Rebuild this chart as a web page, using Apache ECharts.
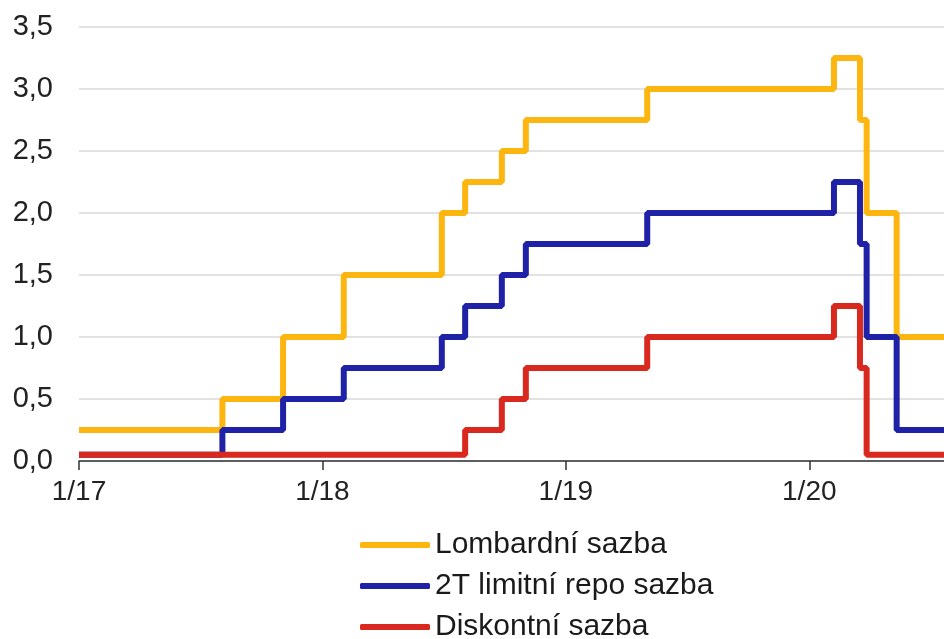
<!DOCTYPE html>
<html>
<head>
<meta charset="utf-8">
<script src="https://cdn.jsdelivr.net/npm/echarts@6/dist/echarts.min.js"></script>
<style>
  html, body { margin: 0; padding: 0; background: #fff; }
  #chart { width: 944px; height: 639px; }
</style>
</head>
<body>
<div id="chart"></div>
<script>
// sazby ČNB (%), body změn
const lombardDates = ['2017-01-01', '2017-08-04', '2017-11-03', '2018-02-02', '2018-06-29', '2018-08-03', '2018-09-27', '2018-11-02', '2019-05-03', '2020-02-07', '2020-03-17', '2020-03-27', '2020-05-11', '2020-07-21'];
const lombardValues = [0.25, 0.5, 1.0, 1.5, 2.0, 2.25, 2.5, 2.75, 3.0, 3.25, 2.75, 2.0, 1.0, 1.0];

const repoDates = ['2017-01-01', '2017-08-04', '2017-11-03', '2018-02-02', '2018-06-29', '2018-08-03', '2018-09-27', '2018-11-02', '2019-05-03', '2020-02-07', '2020-03-17', '2020-03-27', '2020-05-11', '2020-07-21'];
const repoValues = [0.05, 0.25, 0.5, 0.75, 1.0, 1.25, 1.5, 1.75, 2.0, 2.25, 1.75, 1.0, 0.25, 0.25];

const diskontDates = ['2017-01-01', '2018-08-03', '2018-09-27', '2018-11-02', '2019-05-03', '2020-02-07', '2020-03-17', '2020-03-27', '2020-07-21'];
const diskontValues = [0.05, 0.25, 0.5, 0.75, 1.0, 1.25, 0.75, 0.05, 0.05];

const yearTicks = ['2017-01-01', '2018-01-01', '2019-01-01', '2020-01-01'];
const seriesNames = ['Lombardní sazba', '2T limitní repo sazba', 'Diskontní sazba'];
const colors = ['#FDB50F', '#1F22A6', '#D9291F'];

const toTime = s => {
  const [y, m, d] = s.split('-').map(Number);
  return Date.UTC(y, m - 1, d);
};
const pairs = (dates, vals) => dates.map((d, i) => [toTime(d), vals[i]]);
const tickTimes = yearTicks.map(toTime);

const chart = echarts.init(document.getElementById('chart'));
const font = 'Arial, "Liberation Sans", sans-serif';

const mkSeries = (name, data, color) => ({
  name: name,
  type: 'line',
  step: 'end',
  symbol: 'none',
  data: data,
  lineStyle: { color: color, width: 6 },
  itemStyle: { color: color }
});

chart.setOption({
  animation: false,
  grid: { left: 79, right: 0, top: 27, bottom: 178 },
  legend: {
    orient: 'vertical',
    left: 360,
    top: 530,
    height: 160,
    padding: 0,
    icon: 'roundRect',
    itemWidth: 70,
    itemHeight: 6,
    itemGap: 11,
    data: seriesNames,
    textStyle: { fontFamily: font, fontSize: 30, color: '#1a1a1a', lineHeight: 30 }
  },
  xAxis: {
    type: 'value',
    min: toTime('2017-01-01'),
    max: toTime('2020-07-21'),
    axisLine: { lineStyle: { color: '#333', width: 1.5 } },
    axisTick: { show: true, customValues: tickTimes, length: 9, lineStyle: { color: '#333', width: 1.5 } },
    axisLabel: {
      customValues: tickTimes,
      fontFamily: font,
      fontSize: 28,
      color: '#222',
      margin: 17,
      formatter: v => {
        const d = new Date(v);
        return (d.getUTCMonth() + 1) + '/' + String(d.getUTCFullYear()).slice(2);
      }
    },
    splitLine: { show: false }
  },
  yAxis: {
    type: 'value',
    min: 0,
    max: 3.5,
    interval: 0.5,
    axisLine: { show: false },
    axisTick: { show: false },
    axisLabel: {
      fontFamily: font,
      fontSize: 29,
      color: '#222',
      margin: 26,
      formatter: v => v.toFixed(1).replace('.', ',')
    },
    splitLine: { lineStyle: { color: '#d9d9d9', width: 1.5 } }
  },
  series: [
    mkSeries(seriesNames[0], pairs(lombardDates, lombardValues), colors[0]),
    mkSeries(seriesNames[1], pairs(repoDates, repoValues), colors[1]),
    mkSeries(seriesNames[2], pairs(diskontDates, diskontValues), colors[2])
  ]
});
</script>
</body>
</html>
